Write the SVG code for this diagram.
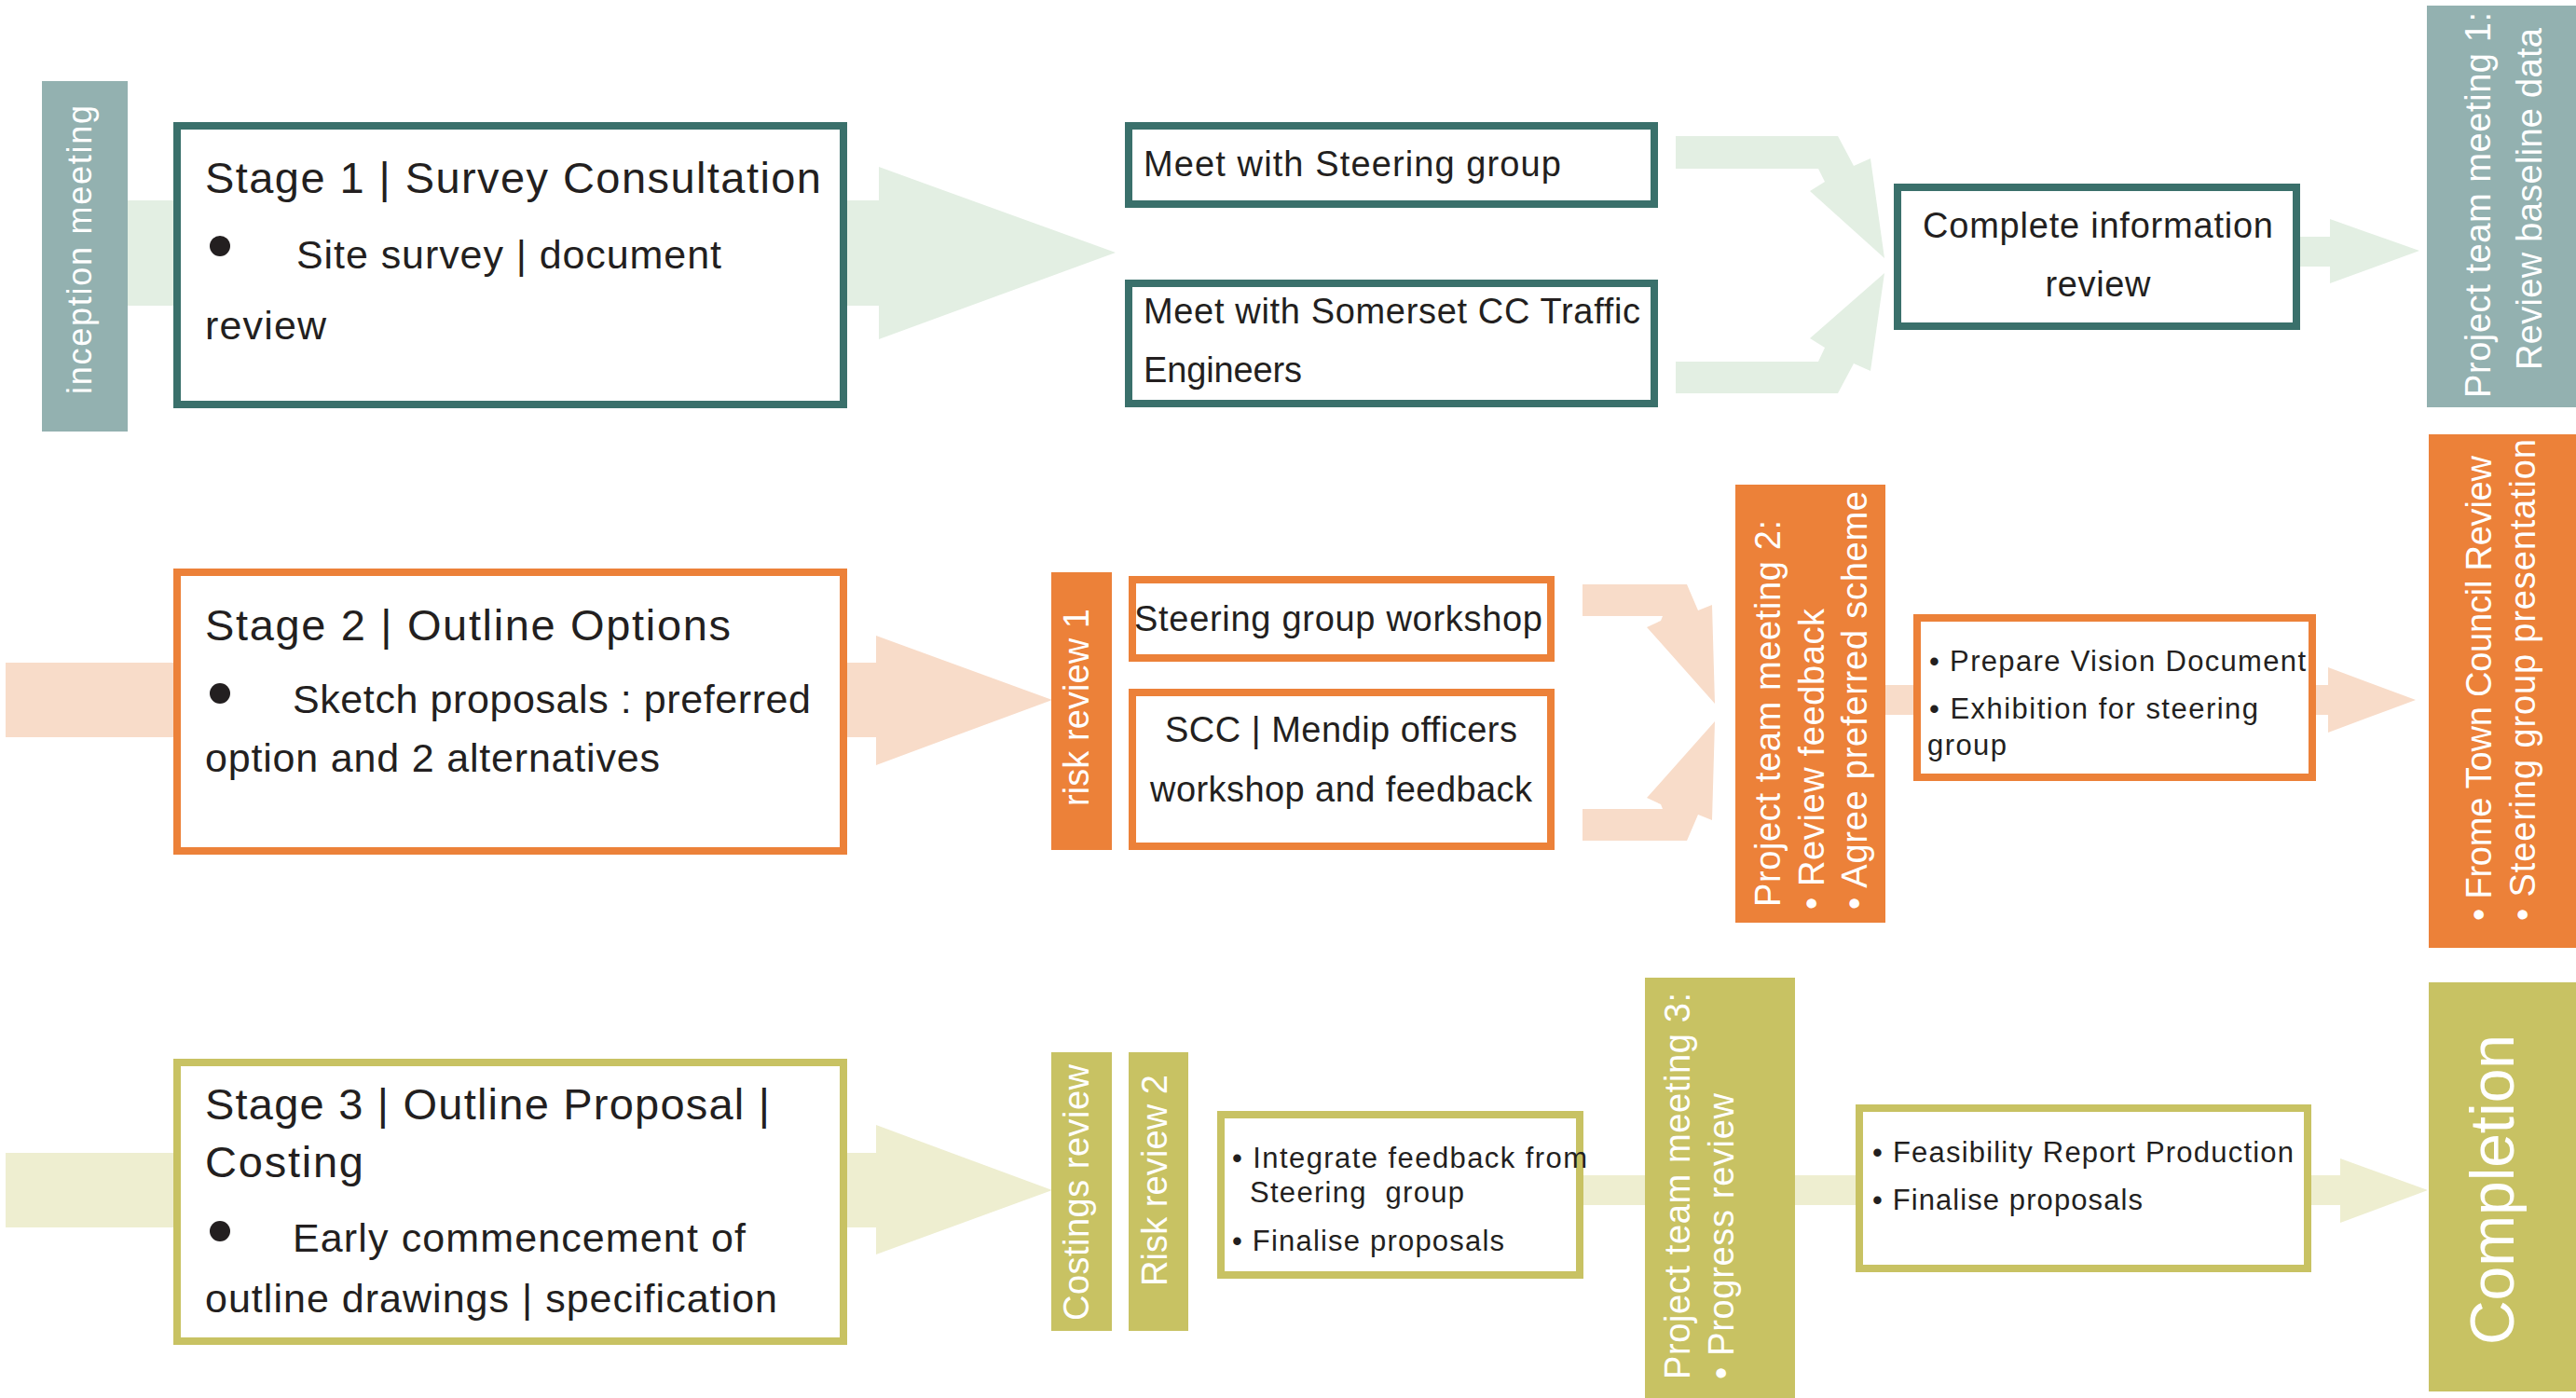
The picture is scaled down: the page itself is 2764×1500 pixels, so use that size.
<svg xmlns="http://www.w3.org/2000/svg" width="2764" height="1500" viewBox="0 0 2764 1500">
<style>
.t{font-family:"Liberation Sans",Arial,sans-serif;fill:#231f20}
.v{font-family:"Liberation Sans",Arial,sans-serif;fill:#ffffff}
.b1{fill:#fff;stroke:#3a706b;stroke-width:8}
.b2{fill:#fff;stroke:#ec8139;stroke-width:8}
.b3{fill:#fff;stroke:#c8c263;stroke-width:8}
.k1{fill:#93b1b0}
.k2{fill:#ec8139}
.k3{fill:#c8c263}
.a1{fill:#e3efe3}
.a2{fill:#f8dcc9}
.a3{fill:#eeeed0}
.dot{fill:#231f20}
</style>
<rect width="2764" height="1500" fill="#fff"/>
<g id="connectors">
<polygon class="a1" points="137,215 943,215 943,179 1197,271 943,364 943,328 137,328"/>
<polygon class="a1" points="1798,146 1972,146 1989,178 2007,170 2022,277 1942,205 1958,195 1951,181 1798,181"/>
<polygon class="a1" points="1798,422 1972,422 1989,390 2007,398 2022,293 1942,363 1958,373 1951,388 1798,388"/>
<polygon class="a1" points="2468,254 2500,254 2500,235 2596,269 2500,304 2500,286 2468,286"/>
<polygon class="a2" points="6,711 940,711 940,682 1129,751 940,821 940,791 6,791"/>
<polygon class="a2" points="1698,627 1810,627 1822,655 1837,649 1840,755 1767,673 1782,666 1784,661 1698,661"/>
<polygon class="a2" points="1698,902 1810,902 1822,874 1837,880 1840,774 1767,856 1782,863 1784,868 1698,868"/>
<rect class="a2" x="2020" y="735" width="36" height="32"/>
<polygon class="a2" points="2482,735 2498,735 2498,716 2592,751 2498,786 2498,767 2482,767"/>
<polygon class="a3" points="6,1237 940,1237 940,1207 1129,1277 940,1346 940,1317 6,1317"/>
<rect class="a3" x="1697" y="1261" width="70" height="32"/>
<rect class="a3" x="1924" y="1261" width="69" height="32"/>
<polygon class="a3" points="2478,1261 2511,1261 2511,1243 2605,1277 2511,1312 2511,1293 2478,1293"/>
</g>
<g id="inception-meeting">
<rect class="k1" x="45" y="87" width="92" height="376"/>
<text class="v" font-size="36" transform="translate(98,423) rotate(-90)" textLength="310">inception meeting</text>
</g>
<g id="stage1">
<rect class="b1" x="190" y="135" width="715" height="299"/>
<text class="t" font-size="47" x="220" y="207" textLength="661">Stage 1 | Survey Consultation</text>
<circle class="dot" cx="236" cy="264" r="11"/>
<text class="t" font-size="43" x="318" y="288" textLength="456">Site survey | document</text>
<text class="t" font-size="43" x="220" y="364" textLength="130">review</text>
</g>
<g id="meet-steering">
<rect class="b1" x="1211" y="135" width="564" height="84"/>
<text class="t" font-size="38" x="1227" y="189" textLength="448">Meet with Steering group</text>
</g>
<g id="meet-somerset">
<rect class="b1" x="1211" y="304" width="564" height="129"/>
<text class="t" font-size="38" x="1227" y="347" textLength="533">Meet with Somerset CC Traffic</text>
<text class="t" font-size="38" x="1227" y="410" textLength="170">Engineers</text>
</g>
<g id="complete-info">
<rect class="b1" x="2036" y="201" width="428" height="149"/>
<text class="t" font-size="38" x="2251" y="255" text-anchor="middle" textLength="376">Complete information</text>
<text class="t" font-size="38" x="2251" y="318" text-anchor="middle" textLength="113">review</text>
</g>
<g id="ptm1">
<rect class="k1" x="2604" y="6" width="160" height="431"/>
<text class="v" font-size="38" transform="translate(2672,427) rotate(-90)" textLength="414">Project team meeting 1:</text>
<text class="v" font-size="38" transform="translate(2727,397) rotate(-90)" textLength="367">Review baseline data</text>
</g>
<g id="stage2">
<rect class="b2" x="190" y="614" width="715" height="299"/>
<text class="t" font-size="47" x="220" y="687" textLength="564">Stage 2 | Outline Options</text>
<circle class="dot" cx="236" cy="744" r="11"/>
<text class="t" font-size="43" x="314" y="765" textLength="556">Sketch proposals : preferred</text>
<text class="t" font-size="43" x="220" y="828" textLength="488">option and 2 alternatives</text>
</g>
<g id="risk-review-1">
<rect class="k2" x="1128" y="614" width="65" height="298"/>
<text class="v" font-size="38" transform="translate(1168,865) rotate(-90)" textLength="212">risk review 1</text>
</g>
<g id="steering-workshop">
<rect class="b2" x="1215" y="622" width="449" height="84"/>
<text class="t" font-size="38" x="1436" y="677" text-anchor="middle" textLength="438">Steering group workshop</text>
</g>
<g id="scc-mendip">
<rect class="b2" x="1215" y="743" width="449" height="165"/>
<text class="t" font-size="38" x="1439" y="796" text-anchor="middle" textLength="378">SCC | Mendip officers</text>
<text class="t" font-size="38" x="1439" y="860" text-anchor="middle" textLength="410">workshop and feedback</text>
</g>
<g id="ptm2">
<rect class="k2" x="1862" y="520" width="161" height="470"/>
<text class="v" font-size="38" transform="translate(1910,973) rotate(-90)" textLength="415">Project team meeting 2:</text>
<text class="v" font-size="38" transform="translate(1957,976) rotate(-90)" textLength="323">• Review feedback</text>
<text class="v" font-size="38" transform="translate(2003,976) rotate(-90)" textLength="449">• Agree preferred scheme</text>
</g>
<g id="prepare-vision">
<rect class="b2" x="2057" y="663" width="424" height="171"/>
<text class="t" font-size="31" x="2070" y="720" textLength="404">• Prepare Vision Document</text>
<text class="t" font-size="31" x="2070" y="771" textLength="353">• Exhibition for steering</text>
<text class="t" font-size="31" x="2068" y="810" textLength="85">group</text>
</g>
<g id="frome-review">
<rect class="k2" x="2606" y="466" width="158" height="551"/>
<text class="v" font-size="38" transform="translate(2673,988) rotate(-90)" textLength="499">• Frome Town Council Review</text>
<text class="v" font-size="38" transform="translate(2720,988) rotate(-90)" textLength="517">• Steering group presentation</text>
</g>
<g id="stage3">
<rect class="b3" x="190" y="1140" width="715" height="299"/>
<text class="t" font-size="47" x="220" y="1201" textLength="606">Stage 3 | Outline Proposal |</text>
<text class="t" font-size="47" x="220" y="1263" textLength="170">Costing</text>
<circle class="dot" cx="236" cy="1321" r="11"/>
<text class="t" font-size="43" x="314" y="1343" textLength="486">Early commencement of</text>
<text class="t" font-size="43" x="220" y="1408" textLength="614">outline drawings | specification</text>
</g>
<g id="costings-review">
<rect class="k3" x="1128" y="1129" width="65" height="299"/>
<text class="v" font-size="38" transform="translate(1168,1417) rotate(-90)" textLength="275">Costings review</text>
</g>
<g id="risk-review-2">
<rect class="k3" x="1211" y="1129" width="64" height="299"/>
<text class="v" font-size="38" transform="translate(1252,1380) rotate(-90)" textLength="227">Risk review 2</text>
</g>
<g id="integrate-feedback">
<rect class="b3" x="1310" y="1196" width="385" height="172"/>
<text class="t" font-size="31" x="1322" y="1253" textLength="381">• Integrate feedback from</text>
<text class="t" font-size="31" x="1341" y="1290" textLength="230" xml:space="preserve">Steering  group</text>
<text class="t" font-size="31" x="1322" y="1342" textLength="292">• Finalise proposals</text>
</g>
<g id="ptm3">
<rect class="k3" x="1765" y="1049" width="161" height="451"/>
<text class="v" font-size="38" transform="translate(1813,1480) rotate(-90)" textLength="415">Project team meeting 3:</text>
<text class="v" font-size="38" transform="translate(1860,1480) rotate(-90)" textLength="307">• Progress review</text>
</g>
<g id="feasibility">
<rect class="b3" x="1995" y="1189" width="481" height="172"/>
<text class="t" font-size="31" x="2009" y="1247" textLength="452">• Feasibility Report Production</text>
<text class="t" font-size="31" x="2009" y="1298" textLength="290">• Finalise proposals</text>
</g>
<g id="completion">
<rect class="k3" x="2606" y="1054" width="158" height="439"/>
<text class="v" font-size="66" transform="translate(2697,1443) rotate(-90)" textLength="333">Completion</text>
</g>
</svg>
